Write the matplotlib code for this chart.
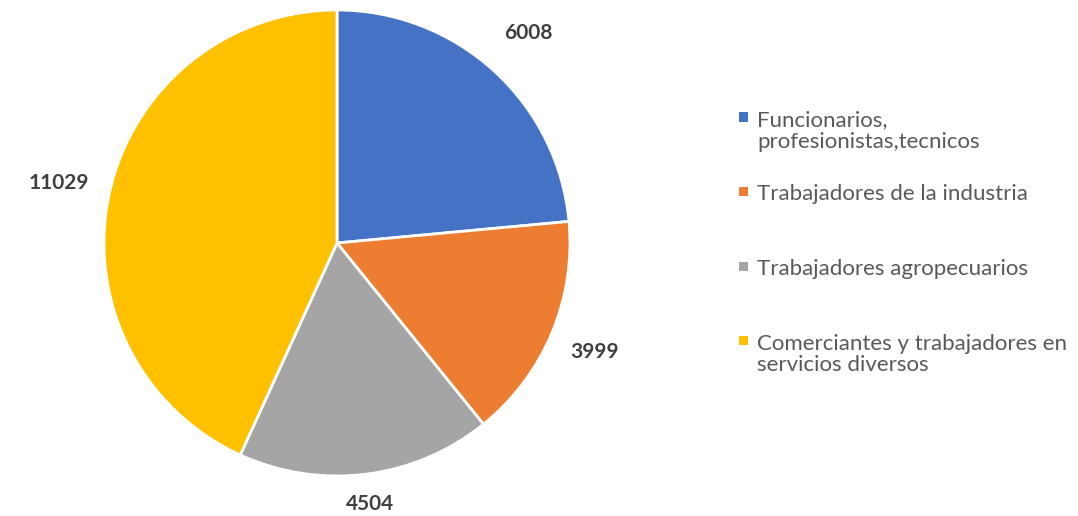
import matplotlib
matplotlib.use("Agg")
import matplotlib.pyplot as plt
from matplotlib.patches import Rectangle
import numpy as np

categories = ["Funcionarios,\nprofesionistas,tecnicos",
              "Trabajadores de la industria",
              "Trabajadores agropecuarios",
              "Comerciantes y trabajadores en\nservicios diversos"]
values = [6008, 3999, 4504, 11029]
colors = ["#4472C4", "#ED7D31", "#A5A5A5", "#FFC000"]
label_dist = [1.22, 1.2, 1.13, 1.22]

plt.rcParams['font.family'] = ['Lato', 'DejaVu Sans']

W, H = 1078, 516
fig = plt.figure(figsize=(W / 100, H / 100), dpi=100)
cx, cy, r = 337, 243, 233
ax = fig.add_axes([(cx - r) / W, (H - cy - r) / H, 2 * r / W, 2 * r / H])
wedges, texts = ax.pie(values, colors=colors, startangle=90, counterclock=False,
                       labels=[str(v) for v in values], labeldistance=1.2,
                       wedgeprops=dict(edgecolor="white", linewidth=2),
                       textprops=dict(fontsize=15, fontweight="bold", color="#404040"))
for t, w, d in zip(texts, wedges, label_dist):
    ang = np.deg2rad((w.theta1 + w.theta2) / 2)
    t.set_position((d * np.cos(ang), d * np.sin(ang)))
    t.set_ha("center")
    t.set_va("center")
ax.set_xlim(-1, 1)
ax.set_ylim(-1, 1)
ax.set_aspect("equal")

# manual legend
lx, y0, step = 739, 117, 74.5
for i, (lab, col) in enumerate(zip(categories, colors)):
    y = y0 + i * step
    fig.patches.append(Rectangle(((lx) / W, (H - y - 4.5) / H), 9 / W, 9 / H,
                                 transform=fig.transFigure, facecolor=col,
                                 edgecolor="none"))
    fig.text((lx + 18) / W, (H - y + 7) / H, lab, fontsize=16, color="#595959",
             ha="left", va="top", linespacing=1.12)

fig.savefig("out.png", dpi=100)
